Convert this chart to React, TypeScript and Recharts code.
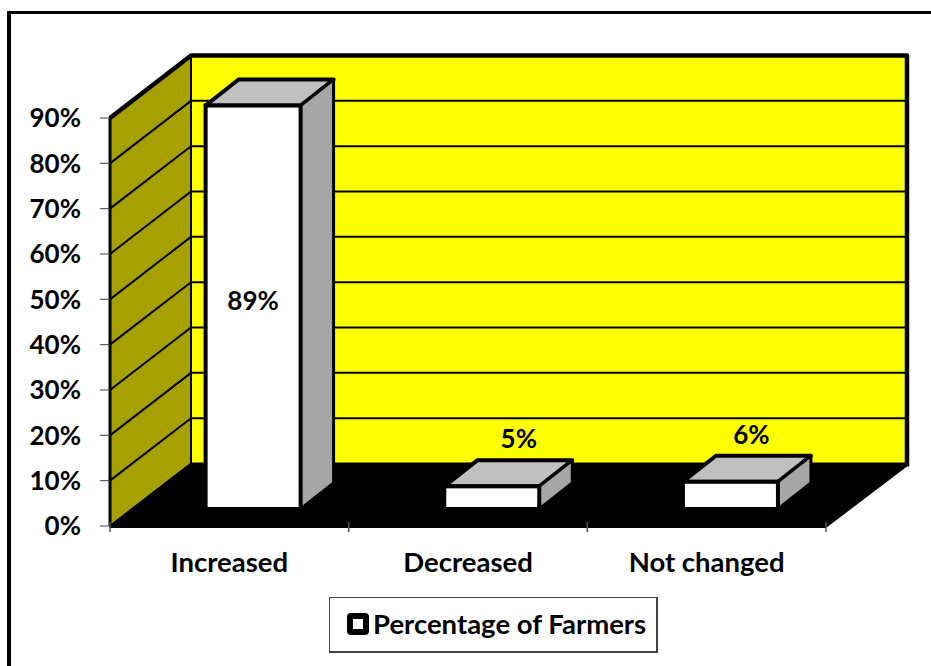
import { BarChart, Bar, XAxis, YAxis, Legend, LabelList, ReferenceArea, ReferenceLine } from 'recharts'

const categories = ['Increased', 'Decreased', 'Not changed']
const farmerShares = [89, 5, 6]
const yTicks = [0, 10, 20, 30, 40, 50, 60, 70, 80, 90]
const seriesName = 'Percentage of Farmers'

const chartData = categories.map((name, i) => ({ name, value: farmerShares[i] }))

const WIDTH = 931
const HEIGHT = 666
const FONT = 'Lato, sans-serif'

// plot rectangle is the front plane of the 3D box
const MARGIN = { top: 118, right: 105, bottom: 0, left: 0 }
const Y_AXIS_W = 110
const X_AXIS_H = 140
const BAND = (WIDTH - Y_AXIS_W - MARGIN.right) / categories.length

// how far the back wall sits behind the front plane
const WALL_DX = 81
const WALL_DY = -62.5
// bars stand part of the way into the floor, with their own depth
const BAR_DX = 24
const BAR_DY = -17
const BOX_DX = 33
const BOX_DY = -26

const WALL_YELLOW = '#FFFF00'
const SIDE_WALL = '#A6A000'
const BOX_TOP = '#C0C0C0'
const BOX_SIDE = '#A6A6A6'

function WallsAndFloor({ x, y, width, height }: any) {
  const bottom = y + height
  const right = x + width
  const backX = x + WALL_DX
  return (
    <g>
      <rect x={backX} y={y + WALL_DY} width={width} height={height} fill={WALL_YELLOW} stroke="#000" strokeWidth={2} />
      <polygon
        points={`${x},${y} ${backX},${y + WALL_DY} ${backX},${bottom + WALL_DY} ${x},${bottom}`}
        fill={SIDE_WALL}
        stroke="#000"
        strokeWidth={2}
      />
      <polygon
        points={`${x},${bottom + 2} ${right},${bottom + 2} ${right + WALL_DX},${bottom + WALL_DY + 3} ${right + WALL_DX},${bottom + WALL_DY} ${backX},${bottom + WALL_DY} ${x},${bottom}`}
        fill="#000"
      />
      <polyline
        points={`${x},${y} ${backX},${y + WALL_DY} ${right + WALL_DX},${y + WALL_DY} ${right + WALL_DX},${bottom + WALL_DY + 3}`}
        fill="none"
        stroke="#000"
        strokeWidth={4.5}
        strokeLinejoin="round"
      />
      <line x1={x} y1={y} x2={x} y2={bottom} stroke="#000" strokeWidth={3} />
    </g>
  )
}

// one gridline runs along the side wall and then across the back wall
function WallGridLine({ x1, y1, x2 }: any) {
  return (
    <polyline
      points={`${x1},${y1} ${x1 + WALL_DX},${y1 + WALL_DY} ${x2 + WALL_DX},${y1 + WALL_DY}`}
      fill="none"
      stroke="#000"
      strokeWidth={2}
    />
  )
}

function Box3D({ x, y, width, height }: any) {
  const left = x + BAR_DX
  const top = y + BAR_DY
  const right = left + width
  const bottom = top + height
  return (
    <g>
      <polygon
        points={`${left},${top} ${left + BOX_DX},${top + BOX_DY} ${right + BOX_DX},${top + BOX_DY} ${right},${top}`}
        fill={BOX_TOP}
        stroke="#000"
        strokeWidth={4}
        strokeLinejoin="round"
      />
      <polygon
        points={`${right},${top} ${right + BOX_DX},${top + BOX_DY} ${right + BOX_DX},${bottom + BOX_DY} ${right},${bottom}`}
        fill={BOX_SIDE}
        stroke="#000"
        strokeWidth={3}
        strokeLinejoin="round"
      />
      <rect x={left} y={top} width={width} height={height} fill="#fff" stroke="#000" strokeWidth={4} />
    </g>
  )
}

// tall bars carry the value on the face, short ones above the top
function ValueLabel({ x, y, width, height, value, index }: any) {
  const tall = height > 100
  const cx = x + BAR_DX + width / 2 + (tall ? 0 : index === 1 ? 27 : 21)
  const cy = tall ? y + BAR_DY + height / 2 + 3 : y + BAR_DY + BOX_DY - 12
  return (
    <text x={cx} y={cy} textAnchor="middle" fontFamily={FONT} fontWeight={700} fontSize={26} fill="#000">
      {`${value}%`}
    </text>
  )
}

function CategoryTick({ x, y, payload, index }: any) {
  const left = x - BAND / 2
  return (
    <g>
      <line x1={left} y1={y - 10} x2={left} y2={y} stroke="#555" strokeWidth={1.5} />
      {index === categories.length - 1 && (
        <line x1={left + BAND} y1={y - 10} x2={left + BAND} y2={y} stroke="#555" strokeWidth={1.5} />
      )}
      <text x={x} y={y + 40} textAnchor="middle" fontFamily={FONT} fontWeight={700} fontSize={27.5} fill="#000">
        {payload.value}
      </text>
    </g>
  )
}

function LegendBox({ payload }: any) {
  return (
    <div
      style={{
        boxSizing: 'border-box',
        width: 329,
        height: 56,
        background: '#fff',
        border: '1px solid #444',
        borderBottomWidth: 2,
        borderRightWidth: 2,
        display: 'flex',
        alignItems: 'center',
        paddingLeft: 17,
        paddingBottom: 2,
        fontFamily: FONT,
        fontWeight: 700,
        fontSize: 27.5,
        color: '#000',
        whiteSpace: 'nowrap',
      }}
    >
      <span
        style={{
          boxSizing: 'border-box',
          width: 22,
          height: 22,
          border: '6px solid #000',
          borderRadius: 4,
          background: '#fff',
          marginRight: 4,
        }}
      />
      {payload?.[0]?.value}
    </div>
  )
}

export default function App() {
  return (
    <div style={{ position: 'absolute', left: 0, top: 0, width: WIDTH, height: HEIGHT, background: '#fff', overflow: 'hidden' }}>
      <div
        style={{
          position: 'absolute',
          left: 7,
          top: 11,
          width: 940,
          height: 700,
          boxSizing: 'border-box',
          borderLeft: '4px solid #000',
          borderTop: '3px solid #000',
        }}
      />
      <BarChart
        width={WIDTH}
        height={HEIGHT}
        data={chartData}
        margin={MARGIN}
        barCategoryGap="30%"
        style={{ position: 'absolute', left: 0, top: 0 }}
      >
        <XAxis
          dataKey="name"
          height={X_AXIS_H}
          axisLine={false}
          tickLine={false}
          tick={<CategoryTick />}
          tickMargin={0}
          interval={0}
        />
        <YAxis
          width={Y_AXIS_W}
          domain={[0, 90]}
          ticks={yTicks}
          interval={0}
          axisLine={false}
          tickLine={{ stroke: '#444', strokeWidth: 1 }}
          tickSize={10}
          tickMargin={19}
          tickFormatter={(v: number) => `${v}%`}
          tick={{ fill: '#000', fontFamily: FONT, fontWeight: 700, fontSize: 26 }}
        />
        <ReferenceArea y1={0} y2={90} shape={<WallsAndFloor />} ifOverflow="visible" zIndex={50} />
        {yTicks.slice(1, -1).map((t) => (
          <ReferenceLine key={t} y={t} shape={<WallGridLine />} ifOverflow="visible" zIndex={60} />
        ))}
        <Legend
          verticalAlign="middle"
          content={<LegendBox />}
          wrapperStyle={{ left: 329, top: 597, width: 329 }}
        />
        <Bar dataKey="value" name={seriesName} shape={<Box3D />} isAnimationActive={false}>
          <LabelList dataKey="value" content={<ValueLabel />} />
        </Bar>
      </BarChart>
    </div>
  )
}
